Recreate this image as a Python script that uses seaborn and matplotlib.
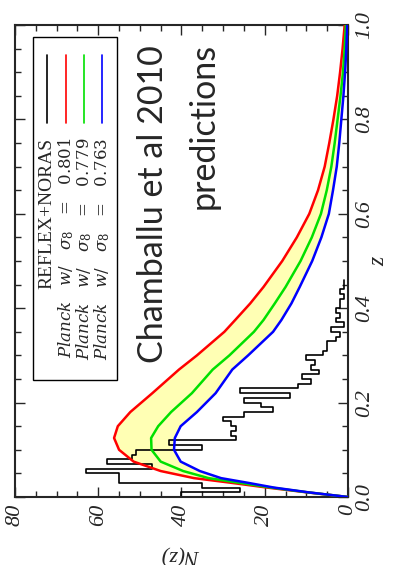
import numpy as np
import pandas as pd
import matplotlib
matplotlib.use('Agg')
import matplotlib.pyplot as plt
import seaborn as sns
from matplotlib.patches import Rectangle

# model curves N(z)
z_grid = [0, 0.01, 0.02, 0.03, 0.04, 0.055, 0.075, 0.1, 0.125, 0.15, 0.18,
          0.22, 0.27, 0.3, 0.35, 0.375, 0.41, 0.445, 0.5, 0.55, 0.6, 0.65,
          0.7, 0.75, 0.8, 0.85, 0.9, 0.95, 1.0]
n_801 = [0, 10, 19.5, 28, 37, 45, 51.5, 55, 56.2, 55.3, 52.3,
         47, 40.6, 36.3, 29.7, 27.1, 23.5, 20.3, 15.8, 12.3, 9.3, 7.2,
         5.6, 4.5, 3.5, 2.6, 1.9, 1.3, 0.8]
n_779 = [0, 9.8, 18.5, 26, 33.5, 39.6, 45, 47.2, 47.3, 45.6, 42.5,
         37.5, 32.5, 28.5, 22.6, 20.3, 17.6, 15.0, 11.4, 8.7, 6.5, 5.1,
         4.0, 3.2, 2.5, 1.8, 1.2, 0.8, 0.5]
n_763 = [0, 9.6, 17.8, 24, 30.5, 35.6, 40.2, 41.8, 41.6, 40.2, 36.3,
         31.8, 27.8, 24.0, 18.0, 16.0, 13.6, 11.6, 8.6, 6.4, 4.6, 3.6,
         2.7, 2.1, 1.6, 1.1, 0.7, 0.4, 0.2]

# REFLEX+NORAS histogram, bins of 0.01 in z starting at 0
hist_counts = [40, 26, 35, 55, 55, 63, 47, 58, 52, 51, 35, 43, 27, 28, 27, 28,
               30, 25, 18, 21, 25, 14, 26, 12, 9, 11, 7, 9, 8, 10, 6, 5, 5,
               3, 2, 4, 1, 3, 2, 3, 2, 2, 1, 2, 1, 1]
bin_width = 0.01

sig8 = ['0.801', '0.779', '0.763']
legend_labels = ['REFLEX+NORAS'] + [
    r'$Planck\quad w/\quad \sigma_8\;\;\;=\;\;\;\mathit{' + s + '}$' for s in sig8]
legend_colors = ['black', '#ff0000', '#00e000', '#0000ff']

sns.set_style('ticks')
plt.rcParams['font.family'] = ['Liberation Serif', 'DejaVu Serif']
plt.rcParams['mathtext.fontset'] = 'dejavuserif'

nbins = len(hist_counts)
centers = (np.arange(nbins) + 0.5) * bin_width
hist_df = pd.DataFrame({'z': centers, 'n': hist_counts})

fig = plt.figure(figsize=(3.95, 5.65), dpi=100)
ax = fig.add_axes([15/395, 68/565, 333/395, 472/565])

ax.fill_betweenx(z_grid, n_763, n_801, color='#ffffb4', lw=0, zorder=1)
sns.histplot(data=hist_df, y='z', weights='n', binwidth=bin_width,
             binrange=(0, nbins * bin_width), element='step',
             fill=False, color='black', linewidth=1.2, ax=ax, zorder=2)
for vals, col in zip([n_801, n_779, n_763], legend_colors[1:]):
    sns.lineplot(x=vals, y=z_grid, sort=False, estimator=None, color=col,
                 linewidth=1.8, ax=ax, zorder=3)

ax.set_xlim(80, 0)
ax.set_ylim(0, 1)
ax.set_xticks([80, 60, 40, 20, 0])
ax.set_xticks(np.arange(0, 81, 5), minor=True)
ax.set_yticks([0, 0.2, 0.4, 0.6, 0.8, 1.0])
ax.set_yticks(np.arange(0, 1.01, 0.05), minor=True)
ax.set_xticklabels(['80', '60', '40', '20', '0'], rotation=90, style='italic', fontsize=16)
ax.set_yticklabels(['0.0', '0.2', '0.4', '0.6', '0.8', '1.0'], rotation=90,
                   style='italic', fontsize=16, va='center')
ax.get_yticklabels()[0].set_va('bottom')
ax.tick_params(which='both', direction='in', top=True, bottom=True, left=True, right=True,
               labelleft=False, labelright=True, width=1.0, pad=5)
ax.tick_params(which='major', length=7)
ax.tick_params(which='minor', length=4)
for s in ax.spines.values():
    s.set_linewidth(1.5)

ax.set_xlabel('N(z)', rotation=180, style='italic', fontsize=16)
ax.xaxis.set_label_coords(0.5, -0.1)
ax.yaxis.set_label_position('right')
ax.set_ylabel('z', rotation=90, style='italic', fontsize=17)
ax.yaxis.set_label_coords(1.06, 0.5)

# legend drawn by hand because the whole panel is turned on its side
ax.add_patch(Rectangle((0.054, 0.248), 0.252, 0.727, transform=ax.transAxes,
                       fill=False, ec='black', lw=1.0, zorder=4))
leg_x = [0.096, 0.153, 0.207, 0.261]
leg_size = [14, 12, 12, 12]
for xx, lab, col, fs in zip(leg_x, legend_labels, legend_colors, leg_size):
    ax.plot([xx, xx], [0.792, 0.936], transform=ax.transAxes, color=col, lw=1.2, zorder=5)
    ax.text(xx, 0.761, lab, transform=ax.transAxes, rotation=90, ha='center', va='top',
            fontsize=fs, zorder=5)

ax.text(0.414, 0.957, 'Chamballu et al 2010', transform=ax.transAxes, rotation=90,
        ha='center', va='top', fontsize=24.5, family='Lato')
ax.text(0.565, 0.963, 'predictions', transform=ax.transAxes, rotation=90,
        ha='center', va='top', fontsize=24.5, family='Lato')

fig.savefig('out.png', dpi=100)
